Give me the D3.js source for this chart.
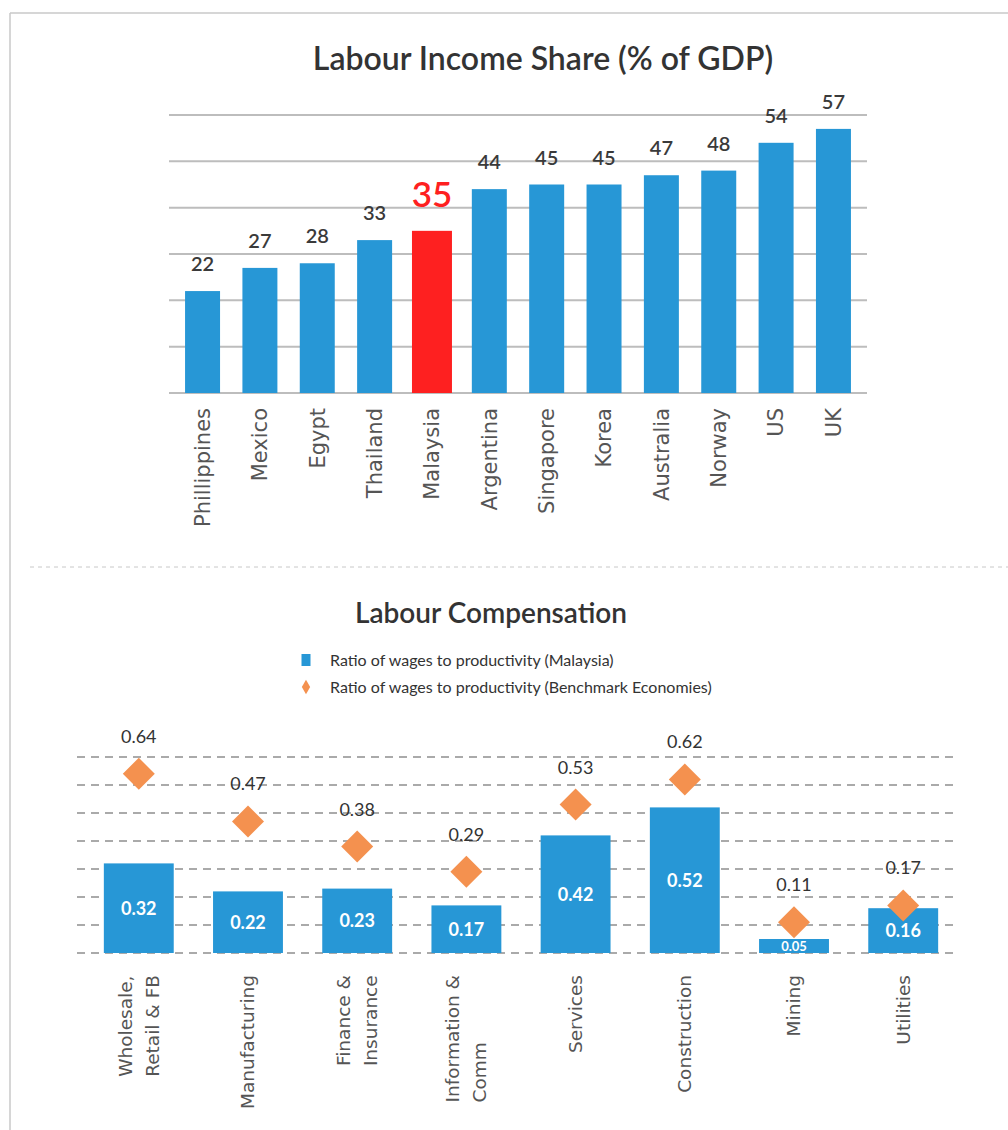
<!DOCTYPE html>
<html>
<head>
<meta charset="utf-8">
<script src="https://cdn.jsdelivr.net/npm/d3@7"></script>
<style>
  body { margin: 0; background: #fff; }
  svg { display: block; }
</style>
</head>
<body>
<div id="chart"></div>
<script>
// top panel data
var countries = ["Phillippines", "Mexico", "Egypt", "Thailand", "Malaysia", "Argentina",
                 "Singapore", "Korea", "Australia", "Norway", "US", "UK"];
var incomeShare = [22, 27, 28, 33, 35, 44, 45, 45, 47, 48, 54, 57];
var shareTicks = [0, 10, 20, 30, 40, 50, 60];
var highlight = "Malaysia";

// bottom panel data
var sectors = [["Wholesale,", "Retail & FB"], ["Manufacturing"], ["Finance &", "Insurance"],
               ["Information &", "Comm"], ["Services"], ["Construction"], ["Mining"], ["Utilities"]];
var wageMalaysia = [0.32, 0.22, 0.23, 0.17, 0.42, 0.52, 0.05, 0.16];
var wageBenchmark = [0.64, 0.47, 0.38, 0.29, 0.53, 0.62, 0.11, 0.17];
var wageTicks = [0, 0.1, 0.2, 0.3, 0.4, 0.5, 0.6, 0.7];
var legendLabels = ["Ratio of wages to productivity (Malaysia)",
                    "Ratio of wages to productivity (Benchmark Economies)"];

var blue = "#2797d6", red = "#fe2020", orange = "#f4914f";
var W = 1008, H = 1130;
var titleFont = "Lato, 'Open Sans', sans-serif";
var axisFont = "'DejaVu Sans', Verdana, sans-serif";

var svg = d3.select("#chart").append("svg")
    .attr("width", W)
    .attr("height", H);

// frame: top + left rule, dashed separator
svg.append("line").attr("x1", 10).attr("x2", W).attr("y1", 13).attr("y2", 13)
    .attr("stroke", "#c8c8c8").attr("stroke-width", 1.5);
svg.append("line").attr("x1", 10).attr("x2", 10).attr("y1", 13).attr("y2", H)
    .attr("stroke", "#c8c8c8").attr("stroke-width", 1.5);
svg.append("line").attr("x1", 30).attr("x2", W).attr("y1", 567).attr("y2", 567)
    .attr("stroke", "#c8c8c8").attr("stroke-width", 1).attr("stroke-dasharray", "4,4");

// ---------- top chart ----------
var data1 = countries.map(function(c, i) { return {name: c, value: incomeShare[i]}; });

var x1 = d3.scaleBand()
    .domain(countries)
    .range([169, 867])
    .paddingInner(0.39)
    .paddingOuter(0.28);

var y1 = d3.scaleLinear()
    .domain([0, 60])
    .range([393, 115]);

svg.append("text")
    .attr("x", 543).attr("y", 70)
    .attr("text-anchor", "middle")
    .style("font-family", titleFont).style("font-weight", 600).style("font-size", "32px")
    .style("fill", "#333")
    .text("Labour Income Share (% of GDP)");

svg.append("g")
    .selectAll("line")
    .data(shareTicks)
    .enter()
    .append("line")
    .attr("x1", x1.range()[0]).attr("x2", x1.range()[1])
    .attr("y1", function(d) { return y1(d); })
    .attr("y2", function(d) { return y1(d); })
    .attr("stroke", "#bdbdbd").attr("stroke-width", 2);

svg.append("g")
    .selectAll("rect")
    .data(data1)
    .enter()
    .append("rect")
    .attr("x", function(d) { return d.name == highlight ? x1(d.name) - 2.5 : x1(d.name); })
    .attr("width", function(d) { return d.name == highlight ? x1.bandwidth() + 5 : x1.bandwidth(); })
    .attr("y", function(d) { return y1(d.value); })
    .attr("height", function(d) { return y1(0) - y1(d.value); })
    .attr("fill", function(d) { return d.name == highlight ? red : blue; });

svg.append("g")
    .selectAll("text")
    .data(data1)
    .enter()
    .append("text")
    .attr("x", function(d) { return x1(d.name) + x1.bandwidth() / 2; })
    .attr("y", function(d) { return y1(d.value) - (d.name == highlight ? 24 : 20); })
    .attr("text-anchor", "middle")
    .style("font-family", titleFont)
    .style("font-size", function(d) { return d.name == highlight ? "35px" : "20px"; })
    .style("font-weight", 600)
    .style("fill", function(d) { return d.name == highlight ? red : "#3a3a3a"; })
    .text(function(d) { return d.value; });

svg.append("g")
    .selectAll("text")
    .data(data1)
    .enter()
    .append("text")
    .attr("transform", function(d) {
        return "translate(" + (x1(d.name) + x1.bandwidth() / 2) + ",408)rotate(-90)"; })
    .attr("text-anchor", "end")
    .attr("dy", "0.35em")
    .style("font-family", axisFont).style("font-size", "21px")
    .style("fill", "#555")
    .text(function(d) { return d.name; });

// ---------- bottom chart ----------
var names2 = sectors.map(function(s) { return s.join(" "); });
var data2 = names2.map(function(n, i) {
    return {name: n, lines: sectors[i], mal: wageMalaysia[i], bench: wageBenchmark[i]}; });

var x2 = d3.scaleBand()
    .domain(names2)
    .range([82, 960])
    .paddingInner(0.36)
    .paddingOuter(0.2);

var y2 = d3.scaleLinear()
    .domain([0, 0.7])
    .range([953, 757]);

svg.append("text")
    .attr("x", 491).attr("y", 623)
    .attr("text-anchor", "middle")
    .style("font-family", titleFont).style("font-weight", 600).style("font-size", "28px")
    .style("fill", "#333")
    .text("Labour Compensation");

// legend
var legend = svg.append("g").attr("transform", "translate(306,660)");
legend.append("rect")
    .attr("x", -4.5).attr("y", -6).attr("width", 9).attr("height", 12)
    .attr("fill", blue);
legend.append("path")
    .attr("transform", "translate(0,27)")
    .attr("d", d3.symbol(d3.symbolDiamond, 60)())
    .attr("fill", orange);
legend.selectAll("text")
    .data(legendLabels)
    .enter()
    .append("text")
    .attr("x", 24)
    .attr("y", function(d, i) { return i * 27; })
    .attr("dy", "0.35em")
    .style("font-family", titleFont).style("font-size", "16px")
    .style("fill", "#333")
    .text(function(d) { return d; });

svg.append("g")
    .selectAll("line")
    .data(wageTicks)
    .enter()
    .append("line")
    .attr("x1", x2.range()[0] - 5).attr("x2", x2.range()[1] - 5)
    .attr("y1", function(d) { return y2(d); })
    .attr("y2", function(d) { return y2(d); })
    .attr("stroke", "#aaa").attr("stroke-width", 2).attr("stroke-dasharray", "8,6");

var bars = svg.append("g")
    .selectAll("g")
    .data(data2)
    .enter()
    .append("g");

bars.append("rect")
    .attr("x", function(d) { return x2(d.name); })
    .attr("width", x2.bandwidth())
    .attr("y", function(d) { return y2(d.mal); })
    .attr("height", function(d) { return y2(0) - y2(d.mal); })
    .attr("fill", blue);

bars.append("text")
    .attr("x", function(d) { return x2(d.name) + x2.bandwidth() / 2; })
    .attr("y", function(d) { return (y2(d.mal) + y2(0)) / 2; })
    .attr("dy", "0.36em")
    .attr("text-anchor", "middle")
    .style("font-family", titleFont).style("font-weight", 700)
    .style("font-size", function(d) { return y2(0) - y2(d.mal) < 20 ? "13px" : "18px"; })
    .style("fill", "#fff")
    .text(function(d) { return d3.format(".2f")(d.mal); });

bars.append("path")
    .attr("transform", function(d) {
        return "translate(" + (x2(d.name) + x2.bandwidth() / 2) + "," + y2(d.bench) + ")rotate(45)"; })
    .attr("d", d3.symbol(d3.symbolSquare, 512)())
    .attr("fill", orange);

bars.append("text")
    .attr("x", function(d) { return x2(d.name) + x2.bandwidth() / 2; })
    .attr("y", function(d) { return y2(d.bench) - 31; })
    .attr("text-anchor", "middle")
    .style("font-family", titleFont).style("font-size", "18px")
    .style("fill", "#333")
    .text(function(d) { return d3.format(".2f")(d.bench); });

// rotated sector labels: lines left-aligned inside a block whose top sits at 975
bars.each(function(d) {
    var g = d3.select(this);
    var cx = x2(d.name) + x2.bandwidth() / 2;
    var n = d.lines.length;
    var lab = g.append("g");
    var t = lab.selectAll("text")
        .data(d.lines)
        .enter()
        .append("text")
        .attr("dy", "0.35em")
        .style("font-family", axisFont).style("font-size", "18.5px")
        .style("fill", "#555")
        .text(function(s) { return s; });
    var maxLen = d3.max(t.nodes(), function(node) { return node.getComputedTextLength(); });
    t.attr("transform", function(s, i) {
        return "translate(" + (cx + (i - (n - 1) / 2) * 27) + "," + (975 + maxLen) + ")rotate(-90)"; });
});
</script>
</body>
</html>
